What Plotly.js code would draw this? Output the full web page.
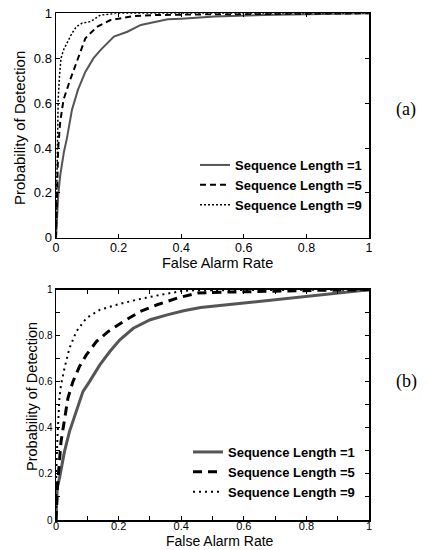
<!DOCTYPE html>
<html>
<head>
<meta charset="utf-8">
<script src="https://cdn.plot.ly/plotly-3.0.1.min.js"></script>
<style>html,body{margin:0;padding:0;background:#fff;}#chart{width:428px;height:550px;}</style>
</head>
<body>
<div id="chart"></div>
<script>
// Series names
var seriesNames = ["Sequence Length =1", "Sequence Length =5", "Sequence Length =9"];
var tickVals = [0, 0.2, 0.4, 0.6, 0.8, 1];
var tickText = ["0", "0.2", "0.4", "0.6", "0.8", "1"];

// (a) top panel
var aLen1X = [0, 0.002, 0.007, 0.013, 0.025, 0.035, 0.04, 0.051, 0.07, 0.094, 0.12, 0.142, 0.185, 0.228, 0.271, 0.357, 0.4, 0.507, 0.7, 0.85, 1.0];
var aLen1Y = [0, 0.05, 0.185, 0.274, 0.38, 0.444, 0.481, 0.57, 0.659, 0.74, 0.8, 0.836, 0.896, 0.918, 0.948, 0.973, 0.976, 0.986, 0.994, 0.997, 1.0];
var aLen5X = [0, 0.002, 0.004, 0.007, 0.013, 0.024, 0.045, 0.072, 0.094, 0.131, 0.174, 0.249, 0.314, 0.45, 0.6, 0.8, 1.0];
var aLen5Y = [0, 0.1, 0.2, 0.4, 0.511, 0.615, 0.703, 0.807, 0.889, 0.94, 0.97, 0.988, 0.992, 0.995, 0.997, 0.999, 1.0];
var aLen9X = [0, 0.001, 0.002, 0.004, 0.007, 0.011, 0.016, 0.025, 0.035, 0.051, 0.065, 0.083, 0.11, 0.125, 0.142, 0.19, 0.3, 0.5, 1.0];
var aLen9Y = [0, 0.1, 0.25, 0.45, 0.615, 0.72, 0.8, 0.84, 0.867, 0.911, 0.94, 0.956, 0.963, 0.975, 0.992, 1.0, 1.0, 1.0, 1.0];

// (b) bottom panel
var bLen1X = [0, 0.001, 0.004, 0.011, 0.027, 0.043, 0.065, 0.086, 0.107, 0.14, 0.172, 0.204, 0.247, 0.301, 0.355, 0.408, 0.462, 0.6, 0.8, 1.0];
var bLen1Y = [0, 0.07, 0.14, 0.181, 0.297, 0.384, 0.471, 0.558, 0.601, 0.674, 0.732, 0.783, 0.833, 0.87, 0.891, 0.909, 0.923, 0.942, 0.97, 1.0];
var bLen5X = [0, 0.002, 0.005, 0.016, 0.027, 0.038, 0.054, 0.075, 0.097, 0.129, 0.167, 0.215, 0.269, 0.323, 0.387, 0.452, 0.55, 0.7, 0.85, 1.0];
var bLen5Y = [0, 0.07, 0.152, 0.34, 0.442, 0.529, 0.601, 0.667, 0.717, 0.775, 0.819, 0.862, 0.906, 0.935, 0.964, 0.986, 0.99, 0.995, 0.998, 1.0];
var bLen9X = [0, 0.0005, 0.001, 0.005, 0.011, 0.016, 0.027, 0.043, 0.065, 0.097, 0.14, 0.194, 0.258, 0.333, 0.408, 0.45, 0.6, 0.8, 1.0];
var bLen9Y = [0, 0.1, 0.21, 0.37, 0.529, 0.587, 0.659, 0.746, 0.819, 0.877, 0.913, 0.935, 0.957, 0.978, 0.996, 0.998, 1.0, 1.0, 1.0];

var FONT = "Liberation Sans, Arial, Helvetica, sans-serif";

var traces = [
  {x: aLen1X, y: aLen1Y, name: seriesNames[0], xaxis: "x", yaxis: "y", legend: "legend", legendgroup: "a1",
   mode: "lines", line: {color: "#555555", width: 2, dash: "solid"}},
  {x: aLen5X, y: aLen5Y, name: seriesNames[1], xaxis: "x", yaxis: "y", legend: "legend", legendgroup: "a5",
   mode: "lines", line: {color: "#000000", width: 2, dash: "6px,4px"}},
  {x: aLen9X, y: aLen9Y, name: seriesNames[2], xaxis: "x", yaxis: "y", legend: "legend", legendgroup: "a9",
   mode: "lines", line: {color: "#000000", width: 1.5, dash: "2px,2px"}},
  {x: bLen1X, y: bLen1Y, name: seriesNames[0], xaxis: "x2", yaxis: "y2", legend: "legend2", legendgroup: "b1",
   mode: "lines", line: {color: "#555555", width: 3, dash: "solid"}},
  {x: bLen5X, y: bLen5Y, name: seriesNames[1], xaxis: "x2", yaxis: "y2", legend: "legend2", legendgroup: "b5",
   mode: "lines", line: {color: "#000000", width: 3, dash: "9px,6px"}},
  {x: bLen9X, y: bLen9Y, name: seriesNames[2], xaxis: "x2", yaxis: "y2", legend: "legend2", legendgroup: "b9",
   mode: "lines", line: {color: "#000000", width: 2, dash: "2px,4px"}}
];

function axisBase(fontSize) {
  return {
    range: [0, 1], tickvals: tickVals, ticktext: tickText, ticks: "inside", ticklen: 4, tickwidth: 1,
    tickcolor: "#000", showline: true, linecolor: "#000", linewidth: 1.5, mirror: "ticks",
    showgrid: false, zeroline: false, fixedrange: true,
    tickfont: {family: FONT, size: fontSize, color: "#000"}
  };
}

var xa = axisBase(12.5); xa.domain = [56/428, 369/428]; xa.anchor = "y"; xa.ticklabelstandoff = -2;
var ya = axisBase(13); ya.domain = [1 - 237.8/550, 1 - 13.3/550]; ya.anchor = "x";
var xb = axisBase(11); xb.domain = [56/428, 369/428]; xb.anchor = "y2"; xb.ticklabelstandoff = -5;
xb.minor = {dtick: 0.1, ticks: "inside", ticklen: 4, tickcolor: "#000"};
var yb = axisBase(10); yb.domain = [1 - 520/550, 1 - 289.8/550]; yb.anchor = "x2";
yb.minor = {dtick: 0.1, ticks: "inside", ticklen: 4, tickcolor: "#000"};

function px(xp) { return xp / 428; }
function py(yp) { return 1 - yp / 550; }

var annotations = [
  {text: "False Alarm Rate", x: px(217), y: py(263), xref: "paper", yref: "paper", showarrow: false,
   xanchor: "center", yanchor: "middle", font: {family: FONT, size: 14.5, color: "#000"}},
  {text: "Probability of Detection", x: px(20), y: py(128), xref: "paper", yref: "paper", showarrow: false,
   textangle: -90, xanchor: "center", yanchor: "middle", font: {family: FONT, size: 15, color: "#000"}},
  {text: "False Alarm Rate", x: px(220), y: py(541), xref: "paper", yref: "paper", showarrow: false, borderpad: 0,
   xanchor: "center", yanchor: "middle", font: {family: FONT, size: 14, color: "#000"}},
  {text: "Probability of Detection", x: px(32), y: py(397), xref: "paper", yref: "paper", showarrow: false,
   textangle: -90, xanchor: "center", yanchor: "middle", font: {family: FONT, size: 14.5, color: "#000"}},
  {text: "(a)", x: px(406), y: py(110), xref: "paper", yref: "paper", showarrow: false,
   xanchor: "center", yanchor: "middle", font: {family: "Liberation Serif, Times New Roman, serif", size: 18, color: "#000"}},
  {text: "(b)", x: px(406), y: py(381), xref: "paper", yref: "paper", showarrow: false,
   xanchor: "center", yanchor: "middle", font: {family: "Liberation Serif, Times New Roman, serif", size: 18, color: "#000"}}
];

var legendFont = {family: FONT, size: 13, color: "#000", weight: "bold"};
var layout = {
  width: 428, height: 550,
  margin: {l: 0, r: 0, t: 0, b: 0},
  paper_bgcolor: "#fff", plot_bgcolor: "#fff",
  showlegend: true,
  xaxis: xa, yaxis: ya, xaxis2: xb, yaxis2: yb,
  legend: {x: px(195), y: py(150), xanchor: "left", yanchor: "top", bgcolor: "rgba(0,0,0,0)",
           borderwidth: 0, font: legendFont, tracegroupgap: 6, traceorder: "normal"},
  legend2: {x: px(188), y: py(437), xanchor: "left", yanchor: "top", bgcolor: "rgba(0,0,0,0)",
           borderwidth: 0, font: legendFont, tracegroupgap: 1, traceorder: "normal"},
  annotations: annotations
};

Plotly.newPlot("chart", traces, layout, {staticPlot: true, displayModeBar: false});
</script>
</body>
</html>
